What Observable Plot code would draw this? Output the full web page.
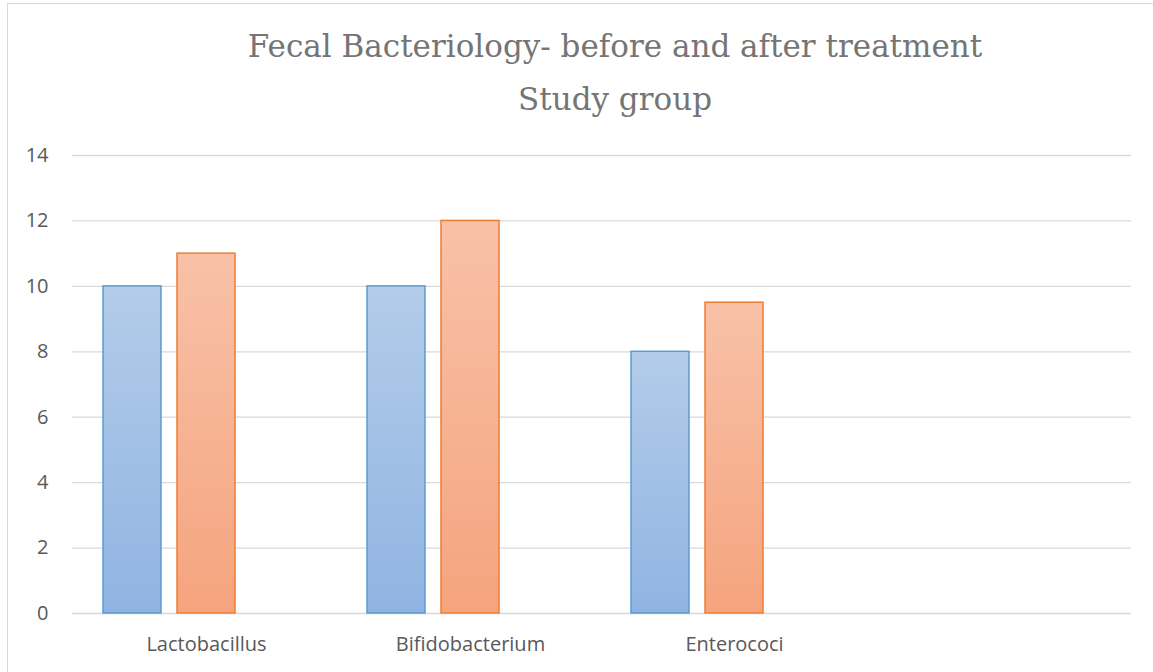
<!DOCTYPE html>
<html><head><meta charset="utf-8">
<script src="https://cdn.jsdelivr.net/npm/d3@7"></script>
<script src="https://cdn.jsdelivr.net/npm/@observablehq/plot@0.6"></script>
<style>
body{margin:0;width:1153px;height:672px;overflow:hidden;background:#fff;position:relative;font-family:"Open Sans",sans-serif}
#frame{position:absolute;left:7px;top:3px;width:1160px;height:680px;border:1px solid #d9d9d9;box-sizing:border-box}
#title{position:absolute;left:0;width:1230px;top:20px;text-align:center;font-family:"DejaVu Serif",serif;font-size:31px;color:#757575;line-height:53px}
#chart{position:absolute;left:0;top:130px}
</style></head>
<body>
<div id="frame"></div>
<div id="title">Fecal Bacteriology- before and after treatment<br>Study group</div>
<div id="chart"></div>
<script>
const categories = ["Lactobacillus", "Bifidobacterium", "Enterococi", " "];
const seriesNames = ["Before", "After"];
const beforeValues = [10, 10, 8];
const afterValues = [11, 12, 9.5];
const yTicks = [0, 2, 4, 6, 8, 10, 12, 14];

const beforeRows = beforeValues.map((v, i) => ({category: categories[i], series: seriesNames[0], value: v}));
const afterRows = afterValues.map((v, i) => ({category: categories[i], series: seriesNames[1], value: v}));

function gradients() {
  const defs = d3.create("svg:defs");
  const mk = (id, top, bottom) => {
    const g = defs.append("linearGradient").attr("id", id).attr("x1", 0).attr("y1", 0).attr("x2", 0).attr("y2", 1);
    g.append("stop").attr("offset", "0%").attr("stop-color", top);
    g.append("stop").attr("offset", "100%").attr("stop-color", bottom);
  };
  mk("gBlue", "#b3cce9", "#90b4e2");
  mk("gOrange", "#f8c1a8", "#f5a47e");
  return defs.node();
}

const chart = Plot.plot({
  width: 1153,
  height: 542,
  marginTop: 25,
  marginBottom: 59,
  marginLeft: 72,
  marginRight: 22,
  style: {fontSize: "20px", fontFamily: "'Open Sans', sans-serif", color: "#595959", background: "transparent"},
  x: {domain: categories, padding: 0, label: null},
  y: {domain: [0, 14], label: null},
  marks: [
    gradients,
    Plot.gridY(yTicks, {stroke: "#d9d9d9", strokeOpacity: 1, strokeWidth: 1.3}),
    Plot.barY(beforeRows, {x: "category", y: "value", dx: -74, insetLeft: 103, insetRight: 103, fill: "url(#gBlue)", stroke: "#5b9bd5", strokeWidth: 1.5}),
    Plot.barY(afterRows, {x: "category", y: "value", insetLeft: 103, insetRight: 103, fill: "url(#gOrange)", stroke: "#ed7d31", strokeWidth: 1.5}),
    Plot.axisY({ticks: yTicks, tickSize: 0, tickPadding: 24, fill: "#595959", label: null}),
    Plot.axisX({tickSize: 0, tickPadding: 23, fill: "#595959", label: null})
  ]
});
document.getElementById("chart").appendChild(chart);
</script>
</body></html>
